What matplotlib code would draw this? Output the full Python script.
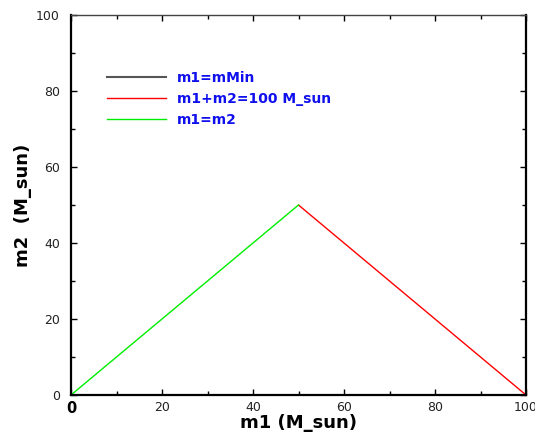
import matplotlib
matplotlib.use("Agg")
import matplotlib.pyplot as plt
from matplotlib.ticker import MultipleLocator

# data
mmin_x = [0, 0]
mmin_y = [0, 0]
sum_x = [50, 100]
sum_y = [50, 0]
eq_x = [0, 50]
eq_y = [0, 50]
labels = ["m1=mMin", "m1+m2=100 M_sun", "m1=m2"]
xticks = [0, 20, 40, 60, 80, 100]
yticks = [0, 20, 40, 60, 80, 100]

fig = plt.figure(figsize=(5.35, 4.34), dpi=100)
ax = fig.add_axes([71/535, 39/434, 455/535, 380/434])

ax.plot(mmin_x, mmin_y, color="#555555", lw=1.5, label=labels[0])
ax.plot(sum_x, sum_y, color="#ff0000", lw=1.0, label=labels[1])
ax.plot(eq_x, eq_y, color="#00ee00", lw=1.0, label=labels[2])

ax.set_xlim(0, 100)
ax.set_ylim(0, 100)
ax.set_xticks(xticks)
ax.set_yticks(yticks)
ax.xaxis.set_minor_locator(MultipleLocator(10))
ax.yaxis.set_minor_locator(MultipleLocator(10))
ax.tick_params(which="both", direction="in", top=True, right=True, colors="black",
               labelcolor="#222222", labelsize=9)
ax.tick_params(which="major", length=4, width=1)
ax.tick_params(which="minor", length=3, width=1)
ax.tick_params(axis="x", pad=4)
ax.tick_params(axis="y", pad=8)
for s in ["left", "bottom", "right"]:
    ax.spines[s].set_linewidth(1.6)
ax.spines["top"].set_linewidth(1.0)
ax.spines["top"].set_color("#444444")

fig.canvas.draw()
for t in ax.get_xticklabels():
    if t.get_text() == "0":
        t.set_fontweight("bold")
        t.set_fontsize(10.5)
        t.set_color("black")

ax.set_xlabel("m1 (M_sun)", fontsize=13, fontweight="bold", labelpad=-1)
ax.set_ylabel("m2  (M_sun)", fontsize=13, fontweight="bold", labelpad=3)

leg = ax.legend(loc="upper left", bbox_to_anchor=(0.068, 0.867), frameon=False,
                prop={"weight": "bold", "size": 10}, handlelength=4.2,
                handletextpad=0.8, labelspacing=0.5, borderaxespad=0)
for t in leg.get_texts():
    t.set_color("#1010ee")

fig.savefig("out.png", dpi=100)
